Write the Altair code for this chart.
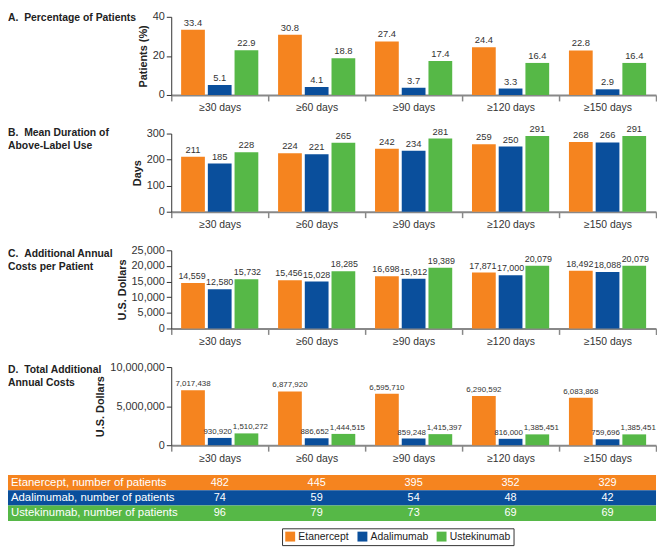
import altair as alt
import pandas as pd

categories = ["≥30 days", "≥60 days", "≥90 days", "≥120 days", "≥150 days"]
drugs = ["Etanercept", "Adalimumab", "Ustekinumab"]
colors = ["#F5841F", "#0A4F9C", "#56B847"]

# A. Percentage of patients
pct_etanercept = [33.4, 30.8, 27.4, 24.4, 22.8]
pct_adalimumab = [5.1, 4.1, 3.7, 3.3, 2.9]
pct_ustekinumab = [22.9, 18.8, 17.4, 16.4, 16.4]

# B. Mean duration of above-label use (days)
days_etanercept = [211, 224, 242, 259, 268]
days_adalimumab = [185, 221, 234, 250, 266]
days_ustekinumab = [228, 265, 281, 291, 291]

# C. Additional annual costs per patient (USD)
cpp_etanercept = [14559, 15456, 16698, 17871, 18492]
cpp_adalimumab = [12580, 15028, 15912, 17000, 18088]
cpp_ustekinumab = [15732, 18285, 19389, 20079, 20079]

# D. Total additional annual costs (USD)
tot_etanercept = [7017438, 6877920, 6595710, 6290592, 6083868]
tot_adalimumab = [930920, 886652, 859248, 816000, 759696]
tot_ustekinumab = [1510272, 1444515, 1415397, 1385451, 1385451]

# Number of patients
n_etanercept = [482, 445, 395, 352, 329]
n_adalimumab = [74, 59, 54, 48, 42]
n_ustekinumab = [96, 79, 73, 69, 69]

FONT = "Liberation Sans"
W = 490
H = 79
LEFT = -165
NB = "\u00a0"

color_scale = alt.Scale(domain=drugs, range=colors)


def panel(title_lines, series, ytitle, ymax, yvalues, label_fmt, label_size, title_dy,
          label_dx=(0, 0, 0)):
    rows = []
    for d, vals in zip(drugs, series):
        for c, v in zip(categories, vals):
            rows.append({"cat": c, "drug": d, "value": v})
    df = pd.DataFrame(rows)
    base = alt.Chart(df).encode(
        x=alt.X("cat:N", sort=categories,
                scale=alt.Scale(paddingInner=0, paddingOuter=0),
                axis=alt.Axis(title=None, labelAngle=0, tickBand="extent",
                              labelFontSize=10.5, labelFont=FONT, labelColor="#333",
                              domainColor="#888", domainWidth=2,
                              tickColor="#888", tickWidth=1.5, tickSize=6,
                              labelPadding=2)),
        xOffset=alt.XOffset("drug:N", sort=drugs,
                            scale=alt.Scale(paddingInner=0.111, paddingOuter=0.37)),
        y=alt.Y("value:Q", scale=alt.Scale(domain=[0, ymax], nice=False),
                axis=alt.Axis(title=ytitle, values=yvalues, format=",.0f",
                              labelFontSize=11, labelFont=FONT, labelColor="#333",
                              domainColor="#333", tickColor="#333", tickSize=5,
                              labelPadding=2, grid=False,
                              titleFont=FONT, titleFontSize=11, titleFontWeight="bold",
                              titleColor="#222", titlePadding=4)),
    )
    bars = base.mark_bar().encode(
        color=alt.Color("drug:N", scale=color_scale, legend=None)
    )
    layers = [bars]
    for d, dx in zip(drugs, label_dx):
        layers.append(
            base.transform_filter(alt.datum.drug == d).mark_text(
                baseline="bottom", dy=-2, dx=dx, fontSize=label_size,
                font=FONT, color="#333").encode(
                text=alt.Text("value:Q", format=label_fmt)
            )
        )
    return alt.layer(*layers).properties(
        width=W, height=H,
        title=alt.TitleParams(text=title_lines, anchor="start", frame="group",
                              orient="top", baseline="top", offset=0,
                              dx=LEFT, dy=title_dy, font=FONT, fontSize=10.5,
                              fontWeight="bold", color="#222", lineHeight=13),
    )


pA = panel(["A." + NB * 2 + "Percentage of Patients"],
           [pct_etanercept, pct_adalimumab, pct_ustekinumab],
           "Patients (%)", 40, [0, 20, 40], ".1f", 9.5, 13)
pB = panel(["B." + NB * 2 + "Mean Duration of", NB * 6 + "Above-Label Use"],
           [days_etanercept, days_adalimumab, days_ustekinumab],
           "Days", 300, [0, 100, 200, 300], ",", 9.5, 28)
pC = panel(["C." + NB * 2 + "Additional Annual", NB * 6 + "Costs per Patient"],
           [cpp_etanercept, cpp_adalimumab, cpp_ustekinumab],
           "U.S. Dollars", 25000, [0, 5000, 10000, 15000, 20000, 25000], ",", 9, 28,
           (-1, 0, 1))
pD = panel(["D." + NB * 2 + "Total Additional", NB * 6 + "Annual Costs"],
           [tot_etanercept, tot_adalimumab, tot_ustekinumab],
           "U.S. Dollars", 10000000, [0, 5000000, 10000000], ",", 8, 28,
           (0, -2, 4))

# Table of patient numbers
trows = []
for d, vals in zip(drugs, [n_etanercept, n_adalimumab, n_ustekinumab]):
    for c, v in zip(categories, vals):
        trows.append({"cat": c, "drug": d, "n": v, "label": d + ", number of patients"})
tdf = pd.DataFrame(trows)
first_cat = categories[0]

yrow = alt.Y("drug:N", sort=drugs,
             scale=alt.Scale(domain=drugs, range=[-9, 37.5], paddingInner=0, paddingOuter=0),
             axis=None)

row_bg = alt.Chart(tdf).transform_filter(
    alt.datum.cat == first_cat
).mark_rect().encode(
    y=yrow,
    x=alt.value(LEFT), x2=alt.value(W),
    color=alt.Color("drug:N", scale=color_scale,
                    legend=alt.Legend(orient="none", legendX=112, legendY=45,
                                      direction="horizontal", title=None,
                                      symbolType="square", symbolSize=100,
                                      symbolStrokeWidth=0, labelFontSize=10.5,
                                      labelFont=FONT, labelColor="#222",
                                      strokeColor="#333", fillColor="white",
                                      padding=3, columnPadding=8, labelOffset=3)),
)
row_label = alt.Chart(tdf).transform_filter(
    alt.datum.cat == first_cat
).mark_text(align="left", baseline="middle", fontSize=11.5,
            font=FONT, fontWeight="normal", color="white").encode(
    y=yrow, x=alt.value(LEFT + 3), text="label:N"
)
row_vals = alt.Chart(tdf).mark_text(baseline="middle", fontSize=11, fontWeight="normal",
                                    font=FONT, color="white").encode(
    y=yrow,
    x=alt.X("cat:N", sort=categories, scale=alt.Scale(paddingInner=0, paddingOuter=0),
            axis=None),
    text="n:Q",
)
table = alt.layer(row_bg, row_label, row_vals).properties(width=W, height=38)

chart = alt.vconcat(pA, pB, pC, pD, table, spacing=39, bounds="flush").resolve_scale(
    color="independent", x="independent", y="independent"
).resolve_legend(color="independent").properties(
    padding=0, background="white"
).configure_view(stroke=None)

chart.save("out.html", embed_options={"renderer": "svg", "actions": False})
